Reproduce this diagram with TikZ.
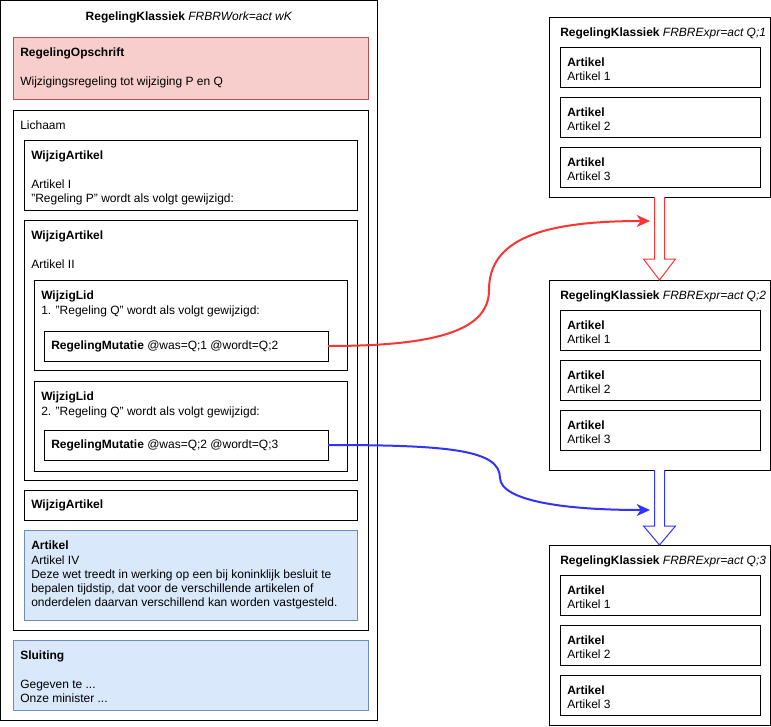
\documentclass[tikz,border=0pt]{standalone}
\usepackage{fontspec}
\setmainfont{Liberation Sans}
\usetikzlibrary{arrows.meta}
\definecolor{opfill}{HTML}{F8CECC}
\definecolor{opdraw}{HTML}{B85450}
\definecolor{artfill}{HTML}{DAE8FC}
\definecolor{artdraw}{HTML}{6C8EBF}
\definecolor{mutred}{HTML}{FF3333}
\definecolor{mutblue}{HTML}{3333FF}

\begin{document}
\begin{tikzpicture}[x=0.75pt,y=-0.75pt,
        box/.style 2 args={draw, line width=0.75pt, anchor=north west, inner sep=0pt, outer sep=0pt,
                           minimum width=#1*0.75pt, minimum height=#2*0.75pt},
        txt/.style={anchor=north west, inner sep=0pt, align=left, font=\fontsize{9}{10.7}\selectfont},
        pinkbox/.style={fill=opfill, draw=opdraw},
        bluebox/.style={fill=artfill, draw=artdraw},
        mutline/.style={line width=1.5pt, -{Stealth[length=10pt,width=9pt,inset=3pt]}},
        blockarrow/.style={line width=0.75pt, fill=white, line join=miter}]
        \useasboundingbox (0,0) rectangle (771,726);

        % work
        \node[box={377}{719.5}] (werk) at (0.5,0.5) {};
        \node[txt, anchor=north] (werktitel) at ([shift={(0,11)}]werk.north) {\textbf{RegelingKlassiek} \textit{FRBRWork=act wK}};
        \node[box={355}{62}, pinkbox] (opschrift) at (13,37) {};
        \node[txt] (opschrifttxt) at ([shift={(7,10.8)}]opschrift.north west) {\textbf{RegelingOpschrift}\\ \\ Wijzigingsregeling tot wijziging P en Q};
        \node[box={355}{520}] (lichaam) at (13,110) {};
        \node[txt] (lichaamtxt) at ([shift={(7,10.8)}]lichaam.north west) {Lichaam};
        \node[box={333}{70}] (wa1) at (24,140) {};
        \node[txt] (wa1txt) at ([shift={(7,10.8)}]wa1.north west) {\textbf{WijzigArtikel}\\ \\ Artikel I\\ "Regeling P" wordt als volgt gewijzigd:};
        \node[box={333}{260}] (wa2) at (24,220) {};
        \node[txt] (wa2txt) at ([shift={(7,10.8)}]wa2.north west) {\textbf{WijzigArtikel}\\ \\ Artikel II};
        \node[box={313}{90}] (wl1) at (34,280) {};
        \node[txt] (wl1txt) at ([shift={(7,10.8)}]wl1.north west) {\textbf{WijzigLid}\\ 1. "Regeling Q" wordt als volgt gewijzigd:};
        \node[box={284}{30}] (mut1) at (44,331) {};
        \node[txt] (mut1txt) at ([shift={(7,9.4)}]mut1.north west) {\textbf{RegelingMutatie} @was=Q;1 @wordt=Q;2};
        \node[box={313}{90}] (wl2) at (34,381) {};
        \node[txt] (wl2txt) at ([shift={(7,10.8)}]wl2.north west) {\textbf{WijzigLid}\\ 2. "Regeling Q" wordt als volgt gewijzigd:};
        \node[box={284}{30}] (mut2) at (44,430) {};
        \node[txt] (mut2txt) at ([shift={(7,9.4)}]mut2.north west) {\textbf{RegelingMutatie} @was=Q;2 @wordt=Q;3};
        \node[box={333}{30}] (wa3) at (24,490) {};
        \node[txt] (wa3txt) at ([shift={(7,9.4)}]wa3.north west) {\textbf{WijzigArtikel}};
        \node[box={333}{90}, bluebox] (art4) at (24,530) {};
        \node[txt] (art4txt) at ([shift={(7,10.8)}]art4.north west) {\textbf{Artikel}\\ Artikel IV\\ Deze wet treedt in werking op een bij koninklijk besluit te\\ bepalen tijdstip, dat voor de verschillende artikelen of\\ onderdelen daarvan verschillend kan worden vastgesteld.};
        \node[box={355}{70}, bluebox] (sluiting) at (13,640) {};
        \node[txt] (sluitingtxt) at ([shift={(7,10.8)}]sluiting.north west) {\textbf{Sluiting}\\ \\ Gegeven te ...\\ Onze minister ...};

        % expressions
        \node[box={221}{180}] (qa) at (549,17) {};
        \node[box={221}{190}] (qb) at (549,280) {};
        \node[box={221}{180}] (qc) at (549,545) {};
        \draw[blockarrow, draw=mutred] ([shift={(-5,0)}]qa.south) -- ++(0,62) -- ++(-11,0) -- (qb.north) -- ++(16,-21) -- ++(-11,0) -- ([shift={(5,0)}]qa.south);
        \draw[blockarrow, draw=mutblue] ([shift={(-5,0)}]qb.south) -- ++(0,56) -- ++(-11,0) -- (qc.north) -- ++(16,-19) -- ++(-11,0) -- ([shift={(5,0)}]qb.south);
        \node[txt] (qatitel) at ([shift={(11,10.3)}]qa.north west) {\textbf{RegelingKlassiek} \textit{FRBRExpr=act Q;1}};
        \node[box={200}{40}] (qa1) at (560,47) {};
        \node[txt] at ([shift={(7,10.3)}]qa1.north west) (qa1txt) {\textbf{Artikel}\\ Artikel 1};
        \node[box={200}{40}] (qa2) at (560,97) {};
        \node[txt] at ([shift={(7,10.3)}]qa2.north west) (qa2txt) {\textbf{Artikel}\\ Artikel 2};
        \node[box={200}{40}] (qa3) at (560,147) {};
        \node[txt] at ([shift={(7,10.3)}]qa3.north west) (qa3txt) {\textbf{Artikel}\\ Artikel 3};
        \node[txt] (qbtitel) at ([shift={(11,10.3)}]qb.north west) {\textbf{RegelingKlassiek} \textit{FRBRExpr=act Q;2}};
        \node[box={200}{40}] (qb1) at (560,310) {};
        \node[txt] at ([shift={(7,10.3)}]qb1.north west) (qb1txt) {\textbf{Artikel}\\ Artikel 1};
        \node[box={200}{40}] (qb2) at (560,360) {};
        \node[txt] at ([shift={(7,10.3)}]qb2.north west) (qb2txt) {\textbf{Artikel}\\ Artikel 2};
        \node[box={200}{40}] (qb3) at (560,410) {};
        \node[txt] at ([shift={(7,10.3)}]qb3.north west) (qb3txt) {\textbf{Artikel}\\ Artikel 3};
        \node[txt] (qctitel) at ([shift={(11,10.3)}]qc.north west) {\textbf{RegelingKlassiek} \textit{FRBRExpr=act Q;3}};
        \node[box={200}{40}] (qc1) at (560,575) {};
        \node[txt] at ([shift={(7,10.3)}]qc1.north west) (qc1txt) {\textbf{Artikel}\\ Artikel 1};
        \node[box={200}{40}] (qc2) at (560,625) {};
        \node[txt] at ([shift={(7,10.3)}]qc2.north west) (qc2txt) {\textbf{Artikel}\\ Artikel 2};
        \node[box={200}{40}] (qc3) at (560,675) {};
        \node[txt] at ([shift={(7,10.3)}]qc3.north west) (qc3txt) {\textbf{Artikel}\\ Artikel 3};

        % mutaties
        \coordinate (redin) at (650,221);
        \coordinate (bluein) at (650,510);
        \draw[mutline, mutred] (mut1.east) .. controls +(110,0) and (489,330) .. (489,290) .. controls (489,240) and (540,221) .. (redin);
        \draw[mutline, mutblue] (mut2.east) .. controls +(122,0) and (500,450) .. (500,478) .. controls (501,500) and (560,510) .. (bluein);
      \end{tikzpicture}
\end{document}
